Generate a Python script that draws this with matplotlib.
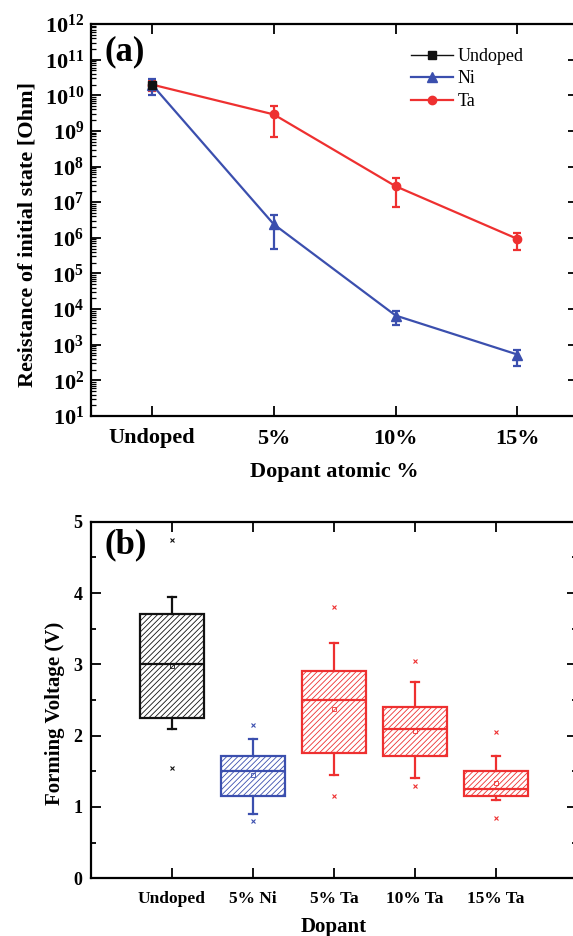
import numpy as np
import matplotlib
matplotlib.use('Agg')
import matplotlib.pyplot as plt
from matplotlib.lines import Line2D
from matplotlib.ticker import LogLocator, FuncFormatter, MultipleLocator, NullFormatter

plt.rcParams['font.family'] = ['Liberation Serif', 'DejaVu Serif']
plt.rcParams['mathtext.fontset'] = 'custom'
plt.rcParams['mathtext.rm'] = 'Liberation Serif'
plt.rcParams['mathtext.bf'] = 'Liberation Serif:bold'
plt.rcParams['hatch.linewidth'] = 0.6

BLUE = '#3B4FAE'
RED = '#EE3030'
BLACK = '#111111'

# ---- panel (a) data: resistance of initial state
dopant_labels = ['Undoped', '5%', '10%', '15%']
undoped_R = 2.0e10
ni_R = [2.0e10, 2.4e6, 6.6e3, 5.3e2]
ni_lo = [1.05e10, 5.0e5, 3.5e3, 2.5e2]
ni_hi = [2.9e10, 4.3e6, 8.7e3, 7.2e2]
ta_R = [2.0e10, 2.9e9, 2.8e7, 9.3e5]
ta_lo = [1.3e10, 6.8e8, 7.2e6, 4.7e5]
ta_hi = [2.6e10, 5.0e9, 4.8e7, 1.4e6]

# ---- panel (b) data: forming voltage box stats
box_labels = ['Undoped', '5% Ni', '5% Ta', '10% Ta', '15% Ta']
q1 = [2.25, 1.15, 1.75, 1.71, 1.15]
q3 = [3.71, 1.71, 2.91, 2.40, 1.50]
med = [3.00, 1.50, 2.50, 2.10, 1.25]
whis_lo = [2.10, 0.90, 1.45, 1.40, 1.10]
whis_hi = [3.95, 1.95, 3.30, 2.75, 1.71]
out_lo = [1.55, 0.80, 1.15, 1.30, 0.85]
out_hi = [4.75, 2.15, 3.80, 3.05, 2.05]
means = [2.98, 1.45, 2.37, 2.06, 1.33]
box_colors = [BLACK, BLUE, RED, RED, RED]

W, H = 573, 936
fig = plt.figure(figsize=(W / 100, H / 100), dpi=100)

# ================= panel (a)
ax1 = fig.add_axes([91 / W, 1 - 416 / H, 487.4 / W, 392 / H])
x = np.arange(len(dopant_labels))

def yerr(vals, lo, hi):
    vals = np.array(vals); lo = np.array(lo); hi = np.array(hi)
    return [vals - lo, hi - vals]

ax1.errorbar(x, ta_R, yerr=yerr(ta_R, ta_lo, ta_hi), color=RED, marker='o', ms=6,
             lw=1.6, elinewidth=1.6, capsize=3, capthick=1.6, zorder=3)
ax1.errorbar(x, ni_R, yerr=yerr(ni_R, ni_lo, ni_hi), color=BLUE, marker='^', ms=6.5,
             lw=1.6, elinewidth=1.6, capsize=3, capthick=1.6, zorder=4)
ax1.plot([0], [undoped_R], color=BLACK, marker='s', ms=5.5, lw=1.0, zorder=5)

ax1.set_yscale('log')
ax1.set_ylim(1e1, 1e12)
ax1.set_xlim(-0.5, 3.5)
ax1.set_xticks(x)
ax1.set_xticklabels(dopant_labels, fontsize=16, fontweight='bold')
ax1.yaxis.set_major_locator(LogLocator(base=10, numticks=20))
ax1.yaxis.set_minor_locator(LogLocator(base=10, subs=np.arange(2, 10), numticks=20))
ax1.yaxis.set_minor_formatter(NullFormatter())
ax1.yaxis.set_major_formatter(FuncFormatter(lambda v, p: r'$\mathbf{10^{%d}}$' % round(np.log10(v))))
ax1.tick_params(which='both', direction='in', top=True, right=True, width=1.3)
ax1.tick_params(which='major', length=7)
ax1.tick_params(which='minor', length=3.5, width=0.9)
ax1.tick_params(axis='x', pad=9)
ax1.tick_params(axis='y', pad=5, labelsize=16)
for s in ax1.spines.values():
    s.set_linewidth(1.6)

ax1.set_xlabel('Dopant atomic %', fontsize=16, fontweight='bold', va='center')
ax1.xaxis.set_label_coords(0.5, -0.143)
ax1.set_ylabel('Resistance of initial state [Ohm]', fontsize=16, fontweight='bold', va='center')
ax1.yaxis.set_label_coords(-0.13, 0.464)
ax1.text((104 - 91) / 487.4, 1 - (52 - 24) / 392, '(a)', transform=ax1.transAxes,
         fontsize=25, fontweight='bold', va='center', ha='left')

handles = [Line2D([], [], color=BLACK, lw=1.0, marker='s', ms=5.5),
           Line2D([], [], color=BLUE, lw=1.6, marker='^', ms=6.5),
           Line2D([], [], color=RED, lw=1.6, marker='o', ms=6)]
ax1.legend(handles, ['Undoped', 'Ni', 'Ta'], loc='upper left',
           bbox_to_anchor=((411 - 91) / 487.4, 1 - (48 - 24) / 392), frameon=False,
           fontsize=13, handlelength=2.3, handletextpad=0.3, labelspacing=0.3,
           borderpad=0, borderaxespad=0)

# ================= panel (b)
ax2 = fig.add_axes([91 / W, 1 - 878.3 / H, 486 / W, 356.6 / H])
pos = np.arange(1, len(box_labels) + 1)
stats = []
for i in range(len(box_labels)):
    stats.append(dict(med=med[i], q1=q1[i], q3=q3[i], whislo=whis_lo[i], whishi=whis_hi[i],
                      fliers=[out_lo[i], out_hi[i]], mean=means[i], label=box_labels[i]))
bp = ax2.bxp(stats, positions=pos, widths=0.8, patch_artist=True, showmeans=True,
             capwidths=0.09)
for i, c in enumerate(box_colors):
    b = bp['boxes'][i]
    b.set_facecolor('white')
    b.set_edgecolor(c)
    b.set_hatch('//////')
    b.set_linewidth(1.6)
    bp['medians'][i].set(color=c, linewidth=1.6)
    for k in (2 * i, 2 * i + 1):
        bp['whiskers'][k].set(color=c, linewidth=1.6)
        bp['caps'][k].set(color=c, linewidth=1.6)
    bp['fliers'][i].set(marker='x', markeredgecolor=c, markersize=3.5, markeredgewidth=0.8)
    bp['means'][i].set(marker='s', markerfacecolor='none', markeredgecolor=c,
                       markersize=3.5, markeredgewidth=0.6)

ax2.set_xlim(0, 6)
ax2.set_ylim(0, 5)
ax2.set_xticks(pos)
ax2.set_xticklabels(box_labels, fontsize=12.5, fontweight='bold')
ax2.yaxis.set_major_locator(MultipleLocator(1))
ax2.yaxis.set_minor_locator(MultipleLocator(0.5))
ax2.tick_params(which='both', direction='in', top=True, right=True, width=1.3)
ax2.tick_params(which='major', length=7)
ax2.tick_params(which='minor', length=3.5)
ax2.tick_params(axis='x', pad=9)
ax2.tick_params(axis='y', pad=6, labelsize=13)
for lab in ax2.get_yticklabels():
    lab.set_fontweight('bold')
for s in ax2.spines.values():
    s.set_linewidth(1.6)

ax2.set_xlabel('Dopant', fontsize=15, fontweight='bold', va='center')
ax2.xaxis.set_label_coords(0.5, -0.1366)
ax2.set_ylabel('Forming Voltage (V)', fontsize=15, fontweight='bold', va='center')
ax2.yaxis.set_label_coords(-0.074, 0.4636)
ax2.text((104 - 91) / 486, 1 - (545 - 521.7) / 356.6, '(b)', transform=ax2.transAxes,
         fontsize=25, fontweight='bold', va='center', ha='left')

fig.savefig('out.png', dpi=100)
